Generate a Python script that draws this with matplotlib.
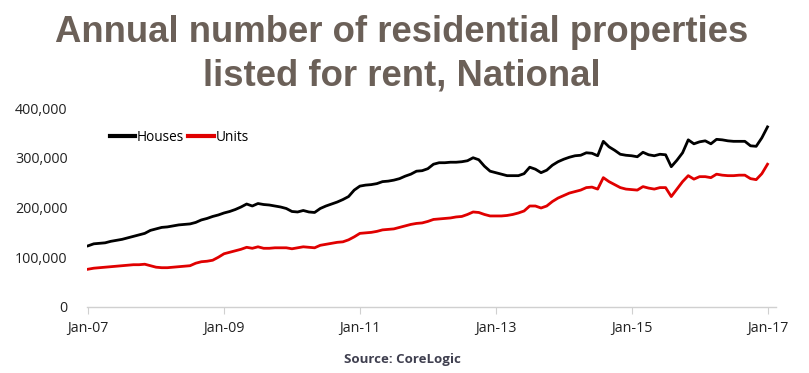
import matplotlib
matplotlib.use("Agg")
import matplotlib.pyplot as plt

months = list(range(121))
houses_k = [123, 127, 128, 129, 132, 134, 136, 139, 142, 145, 148, 154,
            157, 160, 161, 163, 165, 166, 167, 170, 175, 178, 182, 185,
            189, 192, 196, 201, 207, 203, 208, 206, 205, 203, 201, 198,
            192, 191, 194, 191, 190, 198, 203, 207, 211, 216, 222, 235,
            243, 245, 246, 248, 252, 253, 255, 258, 263, 267, 273, 274,
            278, 287, 290, 290, 291, 291, 292, 294, 300, 296, 283, 273,
            270, 267, 264, 264, 264, 268, 281, 277, 270, 275, 285, 292,
            297, 301, 304, 305, 310, 309, 304, 333, 322, 315, 307, 305,
            304, 302, 311, 306, 304, 307, 306, 282, 295, 310, 336, 328,
            332, 334, 328, 337, 336, 334, 333, 333, 333, 324, 323, 340,
            362]
units_k = [76, 78, 79, 80, 81, 82, 83, 84, 85, 85, 86, 83,
           80, 79, 79, 80, 81, 82, 83, 88, 91, 92, 94, 100,
           107, 110, 113, 116, 120, 118, 121, 118, 118, 119, 119, 119,
           117, 119, 121, 120, 119, 124, 126, 128, 130, 131, 135, 141,
           148, 149, 150, 152, 155, 156, 157, 160, 163, 166, 168, 169,
           172, 176, 177, 178, 179, 181, 182, 186, 191, 190, 186, 183,
           183, 183, 184, 186, 189, 193, 203, 203, 199, 203, 212, 219,
           224, 229, 232, 235, 240, 241, 237, 260, 252, 246, 240, 237,
           236, 235, 242, 239, 237, 240, 240, 222, 237, 252, 264, 257,
           262, 262, 260, 267, 265, 264, 264, 265, 265, 258, 256, 268,
           287]
tick_months = [0, 24, 48, 72, 96, 120]
tick_labels = ["Jan-07", "Jan-09", "Jan-11", "Jan-13", "Jan-15", "Jan-17"]
y_ticks = [0, 100000, 200000, 300000, 400000]

houses = [v * 1000 for v in houses_k]
units = [v * 1000 for v in units_k]

W, H = 809, 373
fig = plt.figure(figsize=(W / 100, H / 100), dpi=100)
ax = fig.add_axes([87 / W, 1 - 307 / H, (776 - 87) / W, (307 - 108) / H])

ax.plot(months, houses, color="black", lw=2.0, label="Houses", solid_joinstyle="round")
ax.plot(months, units, color="#e00000", lw=2.0, label="Units", solid_joinstyle="round")

ax.set_xlim(-0.2, 121.5)
ax.set_ylim(0, 400000)
ax.set_xticks(tick_months)
ax.set_xticklabels(tick_labels)
ax.set_yticks(y_ticks)
ax.set_yticklabels([f"{v:,}" for v in y_ticks])

for s in ["top", "right", "left"]:
    ax.spines[s].set_visible(False)
ax.spines["bottom"].set_color("#d0d0d0")
ax.spines["bottom"].set_linewidth(1.0)
ax.tick_params(axis="x", length=5, color="#d0d0d0", pad=5, labelsize=10.3,
               labelcolor="#222222")
ax.tick_params(axis="y", length=0, pad=14, labelsize=10.3, labelcolor="#222222")
for lab in ax.get_xticklabels() + ax.get_yticklabels():
    lab.set_fontfamily("Open Sans")

leg = ax.legend(loc="upper left", bbox_to_anchor=(0.015, 0.95), ncol=2, frameon=False,
                handlelength=1.9, handletextpad=0.1, columnspacing=0.3,
                prop={"family": "Open Sans", "size": 9.8})
for line in leg.get_lines():
    line.set_linewidth(3)

fig.text(0.497, 1 - 33 / H, "Annual number of residential properties",
         ha="center", va="center", fontsize=26.3, fontweight="bold",
         family="Liberation Sans", color="#6b6058")
fig.text(0.497, 1 - 76 / H, "listed for rent, National",
         ha="center", va="center", fontsize=26.3, fontweight="bold",
         family="Liberation Sans", color="#6b6058")
fig.text(402 / W, 1 - 360 / H, "Source: CoreLogic", ha="center", va="center",
         fontsize=9.5, fontweight="bold", family="Open Sans", color="#3f3f4f")

fig.savefig("out.png", dpi=100)
